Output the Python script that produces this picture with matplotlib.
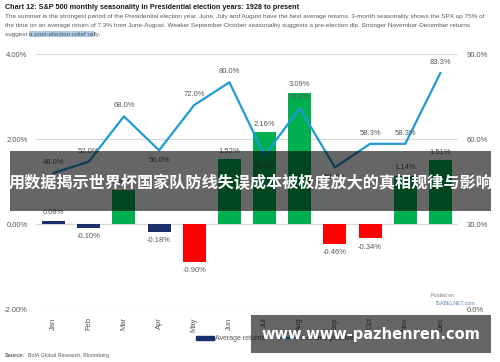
import matplotlib
matplotlib.use("Agg")
import matplotlib.pyplot as plt
from matplotlib.patches import Rectangle, Patch
from matplotlib.lines import Line2D

months = ['Jan', 'Feb', 'Mar', 'Apr', 'May', 'Jun', 'Jul', 'Aug', 'Sep', 'Oct', 'Nov', 'Dec']
avg_ret = [0.08, -0.10, 0.80, -0.18, -0.90, 1.52, 2.16, 3.09, -0.46, -0.34, 1.14, 1.51]
pct_up = [48.0, 52.0, 68.0, 56.0, 72.0, 80.0, 54.2, 70.8, 50.0, 58.3, 58.3, 83.3]
label_below = ['Apr', 'Jul', 'Sep']

title = 'Chart 12: S&P 500 monthly seasonality in Presidential election years: 1928 to present'
sub1 = ('The summer is the strongest period of the Presidential election year. June, July and August have the best '
        'average returns. 3-month seasonality shows the SPX up 75% of')
sub2 = ('the time on an average return of 7.3% from June-August. Weaker September-October seasonality suggests '
        'a pre-election dip. Stronger November-December returns')
overlay_text = '用数据揭示世界杯国家队防线失误成本被极度放大的真相规律与影响'
url_text = 'www.www-pazhenren.com'

GREEN = '#00b050'
RED = '#ff0000'
NAVY = '#1c2e6b'
BLUE = '#1f9ad6'
GRAY = '#595959'

plt.rcParams['font.family'] = ['Liberation Sans', 'DejaVu Sans']

fig = plt.figure(figsize=(5.0, 3.62), dpi=100)
ax = fig.add_axes([0.072, 0.1464, 0.844, 0.7044])

x = list(range(len(months)))
colors = []
for v in avg_ret:
    if v >= 0.5:
        colors.append(GREEN)
    elif v <= -0.3:
        colors.append(RED)
    else:
        colors.append(NAVY)

ax.bar(x, avg_ret, width=0.65, color=colors, zorder=2)
ax.set_ylim(-2, 4)
ax.set_xlim(-0.5, 11.5)
ax.set_yticks([-2, 0, 2, 4])
ax.set_yticklabels(['%.2f%%' % t for t in [-2, 0, 2, 4]], fontsize=5.5, color=GRAY)
ax.set_xticks(x)
ax.set_xticklabels(months, rotation=90, fontsize=5.5, color=GRAY)
ax.tick_params(length=0, pad=6)
ax.grid(axis='y', color='#d9d9d9', lw=0.8, zorder=0)
ax.axhline(0, color='#bfbfbf', lw=0.8, zorder=1)
for s in ax.spines.values():
    s.set_visible(False)

for i, v in enumerate(avg_ret):
    if v >= 0:
        ax.text(i, v + 0.1, '%.2f%%' % v, ha='center', va='bottom', fontsize=5.5, color=GRAY, zorder=4)
    else:
        ax.text(i, v - 0.12, '%.2f%%' % v, ha='center', va='top', fontsize=5.5, color=GRAY, zorder=4)

ax2 = ax.twinx()
ax2.set_ylim(0, 90)
ax2.set_yticks([0, 30, 60, 90])
ax2.set_yticklabels(['%.1f%%' % t for t in [0, 30, 60, 90]], fontsize=5.5, color=GRAY)
ax2.tick_params(length=0, pad=6)
for s in ax2.spines.values():
    s.set_visible(False)
ax2.plot(x, pct_up, color=BLUE, lw=1.6, zorder=3)
for i, v in enumerate(pct_up):
    if months[i] in label_below:
        ax2.text(i, v - 2.5, '%.1f%%' % v, ha='center', va='top', fontsize=5.5, color=GRAY)
    else:
        ax2.text(i, v + 2.5, '%.1f%%' % v, ha='center', va='bottom', fontsize=5.5, color=GRAY)

# title and subtitle
fig.text(0.01, 0.988, title, fontsize=5.2, fontweight='bold', color='#1a1a1a', va='top')
fig.text(0.01, 0.962, sub1, fontsize=4.6, color=GRAY, va='top')
fig.text(0.01, 0.937, sub2, fontsize=4.6, color=GRAY, va='top')
fig.canvas.draw()
r = fig.canvas.get_renderer()
t1 = fig.text(0.01, 0.912, 'suggest ', fontsize=4.6, color=GRAY, va='top')
bb = t1.get_window_extent(r)
t2 = fig.text(bb.x1 / fig.bbox.width, 0.912, 'a post-election relief ra', fontsize=4.6, color=GRAY,
              va='top', bbox=dict(facecolor='#a9cbe8', edgecolor='none', pad=0.3))
bb2 = t2.get_window_extent(r)
fig.text(bb2.x1 / fig.bbox.width, 0.912, 'lly.', fontsize=4.6, color=GRAY, va='top')

# legend
handles = [Patch(color=NAVY), Line2D([], [], color=BLUE, lw=1.6)]
fig.legend(handles, ['Average returns', '% of time positive'], loc='center left',
           bbox_to_anchor=(0.38, 0.064), ncol=2, frameon=False, fontsize=5,
           handlelength=2.5, handleheight=0.6, labelcolor=GRAY, handletextpad=0.2)

fig.text(0.01, 0.012, 'Source:', fontsize=3.8, fontweight='bold', color=GRAY, va='bottom')
fig.text(0.055, 0.012, 'BofA Global Research, Bloomberg', fontsize=3.8, color=GRAY, va='bottom')

fig.text(0.862, 0.18, 'Posted on', fontsize=3.6, color='#777777')
fig.text(0.872, 0.157, 'ISABELNET.com', fontsize=3.8, color='#5b7fb5')

# watermark bands
fig.patches.append(Rectangle((0.02, 0.417), 0.962, 0.166, transform=fig.transFigure,
                             facecolor='black', alpha=0.6, edgecolor='none', zorder=10))
fig.text(0.501, 0.495, overlay_text, ha='center', va='center', fontsize=11.6, fontweight='bold', color='white',
         family=['Noto Sans CJK SC', 'DejaVu Sans'], zorder=11)
fig.patches.append(Rectangle((0.502, 0.025), 0.48, 0.105, transform=fig.transFigure,
                             facecolor='black', alpha=0.6, edgecolor='none', zorder=10))
fig.text(0.742, 0.077, url_text, ha='center', va='center', fontsize=10.5, fontweight='bold', color='white',
         family=['DejaVu Sans'], zorder=11)

fig.savefig('out.png', dpi=100)
